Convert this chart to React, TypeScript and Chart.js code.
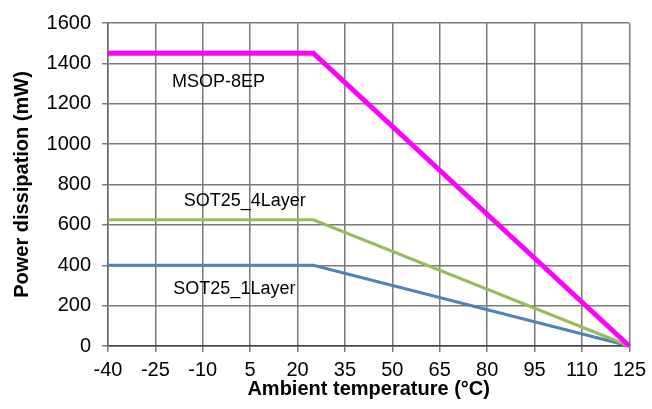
import React, { useEffect, useRef } from "react";
import { Chart, registerables } from "chart.js";

Chart.register(...registerables);

const xTicks = [-40, -25, -10, 5, 20, 35, 50, 65, 80, 95, 110, 125];
const msopX = [-40, 25, 125];
const msopY = [1450, 1450, 0];
const sot4X = [-40, 25, 125];
const sot4Y = [625, 625, 0];
const sot1X = [-40, 25, 125];
const sot1Y = [400, 400, 0];

const labelTexts = ["MSOP-8EP", "SOT25_4Layer", "SOT25_1Layer"];
const labelX = [-5, 3.3, 0];
const labelY = [1307, 719, 283];

const FONT = "'Liberation Sans', Arial, sans-serif";

export default function App() {
  const ref = useRef<HTMLCanvasElement>(null);
  useEffect(() => {
    document.body.style.margin = "0";
    const toPts = (xs: number[], ys: number[]) => xs.map((x, i) => ({ x, y: ys[i] }));
    const labelPlugin = {
      id: "labels",
      afterDatasetsDraw(chart: any) {
        const { ctx, scales } = chart;
        ctx.save();
        ctx.font = `18px ${FONT}`;
        ctx.fillStyle = "#000";
        ctx.textAlign = "center";
        ctx.textBaseline = "middle";
        labelTexts.forEach((t, i) => {
          ctx.fillText(t, scales.x.getPixelForValue(labelX[i]), scales.y.getPixelForValue(labelY[i]));
        });
        ctx.restore();
      },
    };
    const chart = new Chart(ref.current!, {
      type: "line",
      data: {
        datasets: [
          { label: "MSOP-8EP", data: toPts(msopX, msopY), borderColor: "#FF00FF", borderWidth: 5, pointRadius: 0, clip: false as any },
          { label: "SOT25_4Layer", data: toPts(sot4X, sot4Y), borderColor: "#9BBB59", borderWidth: 3, pointRadius: 0, clip: false as any },
          { label: "SOT25_1Layer", data: toPts(sot1X, sot1Y), borderColor: "#4F81BD", borderWidth: 3, pointRadius: 0, clip: false as any },
        ],
      },
      options: {
        animation: false,
        responsive: true,
        maintainAspectRatio: false,
        layout: { padding: { top: 19, right: 18, left: 0, bottom: 0 } },
        plugins: { legend: { display: false }, tooltip: { enabled: false } },
        scales: {
          x: {
            type: "linear",
            min: -40,
            max: 125,
            afterBuildTicks: (s: any) => { s.ticks = xTicks.map((v) => ({ value: v })); },
            afterFit: (s: any) => { s.height = 63; },
            grid: { color: "#7a7a7a", lineWidth: 1.5, tickLength: 6 },
            border: { color: "#404040", width: 1.5 },
            ticks: { color: "#000", font: { family: FONT, size: 20 }, padding: 6, maxRotation: 0, autoSkip: false },
            title: { display: true, text: "Ambient temperature (°C)", color: "#000", font: { family: FONT, size: 20, weight: "bold" }, padding: { top: 0, bottom: 8 } },
          },
          y: {
            min: 0,
            max: 1600,
            afterFit: (s: any) => { s.width = 108; },
            grid: { color: "#7a7a7a", lineWidth: 1.5, tickLength: 6 },
            border: { color: "#6a6a6a", width: 1.5 },
            ticks: { stepSize: 200, color: "#000", font: { family: FONT, size: 20 }, padding: 11, callback: (v: any) => String(v) },
            title: { display: true, text: "Power dissipation (mW)", color: "#000", font: { family: FONT, size: 20, weight: "bold" }, padding: { top: 10, bottom: 0 } },
          },
        },
      },
      plugins: [labelPlugin],
    });
    return () => chart.destroy();
  }, []);
  return (
    <div style={{ position: "fixed", left: 0, top: 0, width: 652, height: 409 }}>
      <canvas ref={ref} />
    </div>
  );
}
